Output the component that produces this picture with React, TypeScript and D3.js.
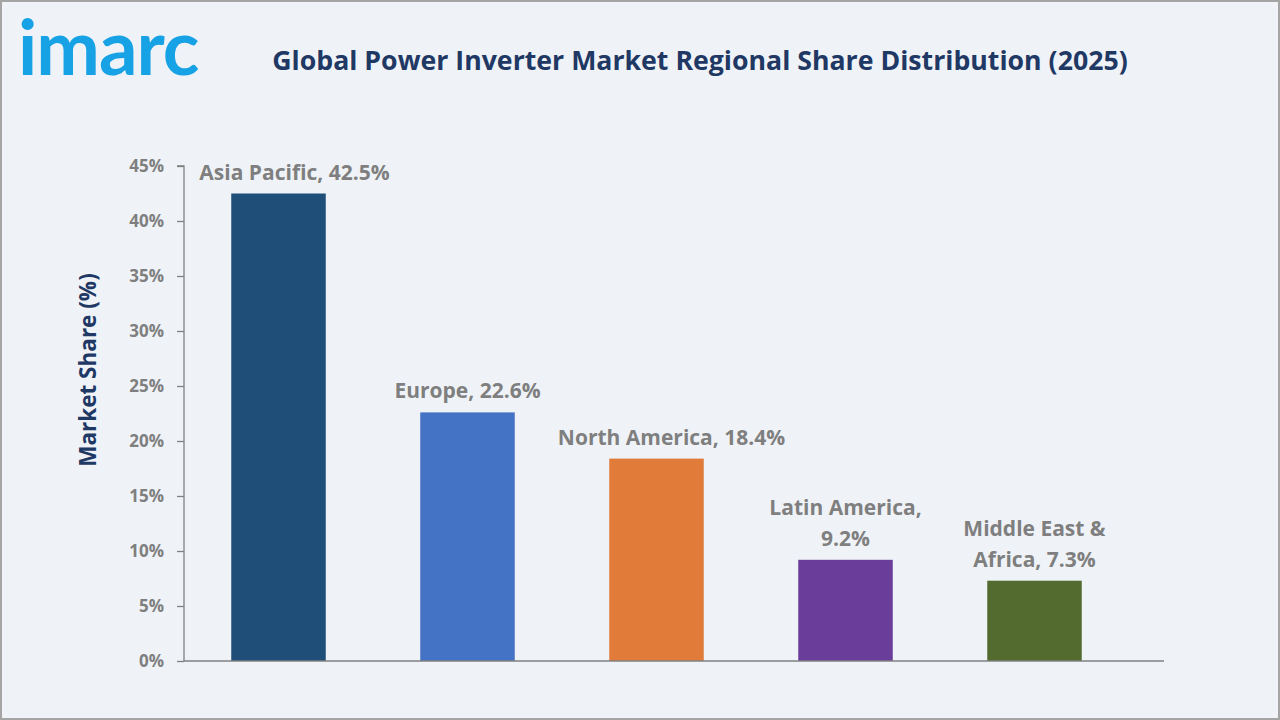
import React, { useEffect, useRef } from 'react';
import * as d3 from 'd3';

// Regional shares, percent
const regions = ['Asia Pacific', 'Europe', 'North America', 'Latin America', 'Middle East & Africa'];
const shares = [42.5, 22.6, 18.4, 9.2, 7.3];
const barColors = ['#1F4E79', '#4472C4', '#E07B39', '#6A3D9A', '#546B2F'];
// value labels, split where they wrap
const labelLines = [
  ['Asia Pacific, 42.5%'],
  ['Europe, 22.6%'],
  ['North America, 18.4%'],
  ['Latin America,', '9.2%'],
  ['Middle East &', 'Africa, 7.3%'],
];
const yTicks = [0, 5, 10, 15, 20, 25, 30, 35, 40, 45];

const W = 1280;
const H = 720;
const FONT = '"Open Sans", "Noto Sans", sans-serif';

const App = () => {
  const svgRef = useRef<SVGSVGElement>(null);

  useEffect(() => {
    const svg = d3.select(svgRef.current);
    svg.selectAll('*').remove();

    // background + frame
    svg.append('rect').attr('x', 1).attr('y', 1).attr('width', W - 2).attr('height', H - 2)
      .attr('fill', '#EFF3F8').attr('stroke', '#A5A5A5').attr('stroke-width', 2);

    // logo
    svg.append('text').attr('x', 18).attr('y', 75)
      .attr('font-family', '"Lato", sans-serif').attr('font-weight', 700).attr('font-size', 76)
      .attr('letter-spacing', -1).attr('fill', '#17A2E6').text('imarc');

    svg.append('text').attr('x', 700).attr('y', 70).attr('text-anchor', 'middle')
      .attr('font-family', FONT).attr('font-weight', 700).attr('font-size', 26.7)
      .attr('fill', '#1F3864')
      .text('Global Power Inverter Market Regional Share Distribution (2025)');

    const left = 184;
    const bottom = 661;
    const top = 166;

    const x = d3.scaleBand<string>().domain(regions).range([left, 1129])
      .paddingInner(0.5).paddingOuter(0.25);
    const y = d3.scaleLinear().domain([0, 45]).range([bottom, top]);

    // y axis
    const yAxis = svg.append('g').attr('transform', `translate(${left},0)`)
      .call(d3.axisLeft(y).tickValues(yTicks).tickSize(7).tickPadding(13).tickFormat((d) => `${d}%`));
    yAxis.select('.domain').attr('stroke', '#808080').attr('stroke-width', 1.3).attr('d', `M-7,${top}H0V${bottom}`);
    yAxis.selectAll('.tick line').attr('stroke', '#808080').attr('stroke-width', 1.3);
    yAxis.selectAll('.tick text').attr('font-family', FONT).attr('font-weight', 700)
      .attr('font-size', 17).attr('fill', '#7F7F7F');

    svg.append('text')
      .attr('transform', `translate(96,370) rotate(-90)`)
      .attr('text-anchor', 'middle').attr('font-family', FONT).attr('font-weight', 700)
      .attr('font-size', 22.5).attr('fill', '#1F3864').text('Market Share (%)');

    // bars
    svg.append('g').selectAll('rect').data(shares).enter().append('rect')
      .attr('x', (_, i) => x(regions[i])!)
      .attr('y', (d) => y(d))
      .attr('width', x.bandwidth())
      .attr('height', (d) => bottom - y(d))
      .attr('fill', (_, i) => barColors[i]);

    // x baseline
    svg.append('line').attr('x1', left).attr('x2', 1164).attr('y1', bottom).attr('y2', bottom)
      .attr('stroke', '#808080').attr('stroke-width', 1.3);

    // value labels
    const labelShift = [16, 0, 15, 0, 0];
    const lineH = 31;
    shares.forEach((v, i) => {
      const lines = labelLines[i];
      const cx = x(regions[i])! + x.bandwidth() / 2 + labelShift[i];
      const baseY = y(v) - 14;
      const t = svg.append('text').attr('text-anchor', 'middle').attr('font-family', FONT)
        .attr('font-weight', 700).attr('font-size', 21).attr('fill', '#7F7F7F');
      lines.forEach((ln, j) => {
        t.append('tspan').attr('x', cx).attr('y', baseY - (lines.length - 1 - j) * lineH).text(ln);
      });
    });
  }, []);

  return <svg ref={svgRef} width={W} height={H} style={{ display: 'block', position: 'absolute', left: 0, top: 0 }} />;
};

export default App;
